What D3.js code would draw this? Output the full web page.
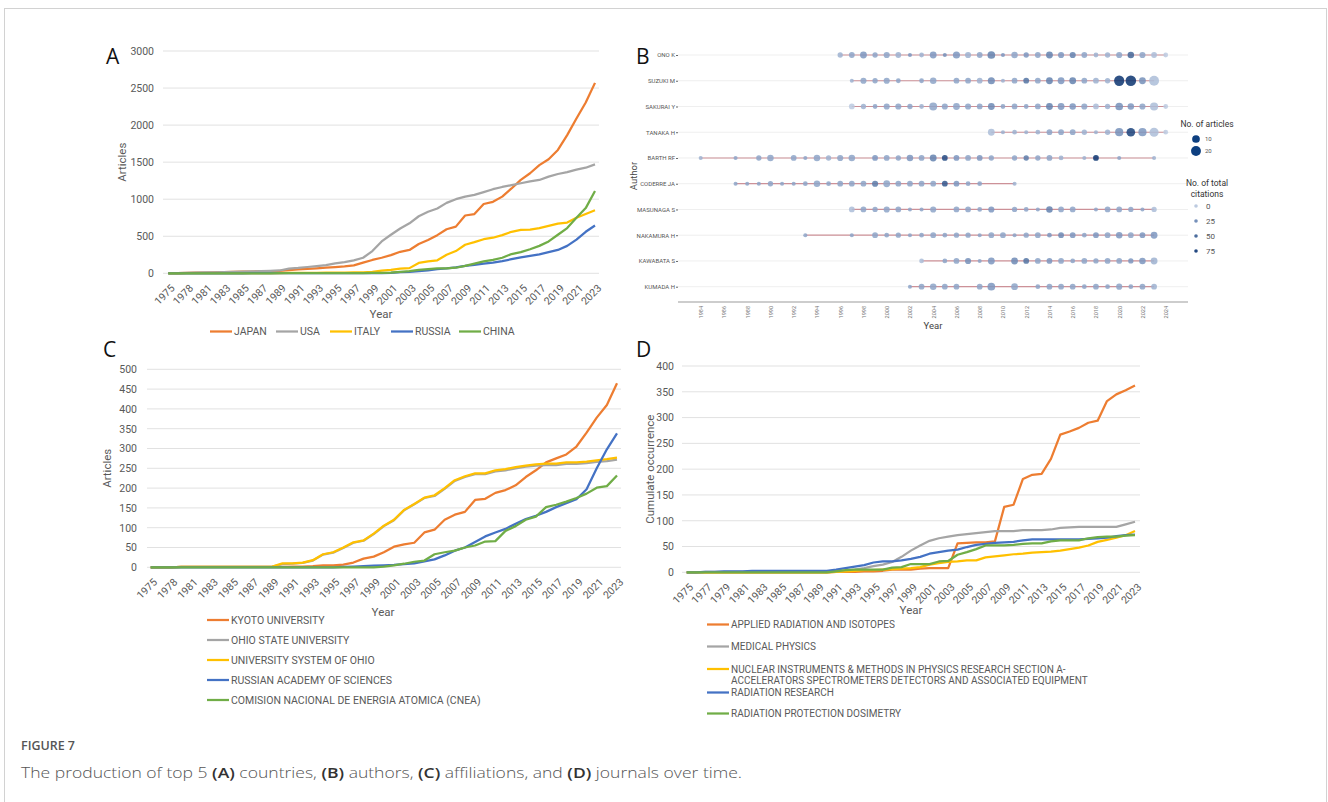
<!DOCTYPE html>
<html>
<head>
<meta charset="utf-8">
<script src="https://cdn.jsdelivr.net/npm/d3@7"></script>
<style>
  body { margin: 0; background: #fff; }
  svg text { font-family: Roboto, "Liberation Sans", sans-serif; }
</style>
</head>
<body>
<div id="wrapper"></div>
<script>
// ---- data ----
// panels A and C share the same category axis (Excel drops a few early years)
const yearsAC = ["1975","1977","1978","1980","1981","1982","1983","1984","1985","1986","1987","1988","1989","1990","1991","1992","1993","1994","1995","1996","1997","1998","1999","2000","2001","2002","2003","2004","2005","2006","2007","2008","2009","2010","2011","2012","2013","2014","2015","2016","2017","2018","2019","2020","2021","2022","2023"];
const yearsD = d3.range(1975, 2024).map(String);

// A: countries
const countryNames = ["JAPAN", "USA", "ITALY", "RUSSIA", "CHINA"];
const japan = [1,3,5,8,10,12,15,18,21,24,27,30,34,42,52,60,68,76,84,92,108,145,180,210,245,290,315,395,450,515,595,630,780,800,935,965,1035,1145,1260,1350,1460,1540,1665,1865,2090,2305,2570];
const usa = [2,4,6,9,11,13,16,19,22,25,28,32,38,62,72,85,98,110,135,150,175,210,300,430,520,605,675,770,830,875,950,1000,1035,1058,1095,1135,1165,1190,1215,1240,1260,1305,1340,1365,1400,1425,1470];
const italy = [0,0,1,1,1,2,2,2,3,3,3,4,4,5,5,6,7,8,9,10,12,14,20,35,45,62,70,140,160,175,250,300,385,420,460,480,515,560,585,590,610,640,670,685,750,800,850];
const russia = [0,0,0,0,0,0,0,0,0,1,1,1,1,1,1,2,2,2,2,3,3,3,4,4,5,15,20,30,40,55,65,80,100,115,130,145,165,190,215,235,255,285,315,370,455,560,645];
const china = [0,0,0,0,0,0,0,0,0,0,0,0,1,1,1,1,2,2,2,3,3,4,5,6,10,20,30,45,55,65,65,75,100,130,160,180,210,260,285,325,370,430,520,610,750,880,1110];

// C: affiliations
const affiliationNames = ["KYOTO UNIVERSITY", "OHIO STATE UNIVERSITY", "UNIVERSITY SYSTEM OF OHIO", "RUSSIAN ACADEMY OF SCIENCES", "COMISION NACIONAL DE ENERGIA ATOMICA (CNEA)"];
const kyoto = [0,0,0,1,1,1,1,1,1,1,1,1,1,1,2,2,3,5,5,7,12,22,27,38,52,58,62,88,95,120,133,140,170,173,188,195,207,228,245,265,275,285,305,340,378,410,465];
const ohioState = [0,0,0,1,1,1,1,1,1,1,1,1,2,8,9,11,17,32,37,49,62,67,84,104,119,144,159,175,180,198,218,228,235,235,242,245,250,254,257,258,258,261,261,263,266,268,272];
const ohioSystem = [0,0,0,1,1,1,1,1,1,1,1,1,2,10,10,12,18,33,38,50,63,68,85,105,120,145,160,176,182,200,220,230,237,237,245,248,253,257,260,262,262,265,265,267,270,273,277];
const russianAcademy = [0,0,0,0,0,0,0,0,0,0,0,0,0,0,0,0,0,0,0,1,2,3,4,5,6,8,10,15,20,30,42,50,64,78,88,97,110,122,130,140,152,162,172,197,250,298,338];
const cnea = [0,0,0,0,0,0,0,0,0,0,0,0,0,0,0,0,0,0,0,0,0,0,0,2,5,9,14,17,33,38,42,50,55,65,66,92,104,120,128,152,158,166,175,186,201,205,232];

// D: journals
const journalNames = ["APPLIED RADIATION AND ISOTOPES", "MEDICAL PHYSICS", "NUCLEAR INSTRUMENTS & METHODS IN PHYSICS RESEARCH SECTION A-|ACCELERATORS SPECTROMETERS DETECTORS AND ASSOCIATED EQUIPMENT", "RADIATION RESEARCH", "RADIATION PROTECTION DOSIMETRY"];
const appliedRadiation = [0,0,0,0,0,0,0,0,0,0,0,0,0,0,0,0,1,1,1,2,2,3,5,5,5,7,8,8,8,56,57,58,58,60,127,131,181,189,191,220,267,273,280,290,294,332,345,353,362];
const medicalPhysics = [0,0,1,1,1,1,1,1,1,1,1,1,1,1,1,1,2,3,5,8,12,15,20,30,42,52,61,66,69,72,74,76,78,80,80,80,82,82,82,83,86,87,88,88,88,88,88,93,98];
const nuclearInstruments = [0,0,0,0,0,0,0,0,0,0,0,0,0,0,0,0,1,2,3,4,4,5,6,7,8,10,15,18,20,21,23,23,29,31,33,35,36,38,39,40,42,45,48,52,59,63,67,72,80];
const radiationResearch = [0,0,1,1,2,2,2,3,3,3,3,3,3,3,3,3,5,8,11,14,19,21,21,23,26,30,36,39,42,44,49,53,55,57,58,59,62,64,64,64,64,64,64,65,66,67,70,72,73];
const radiationDosimetry = [0,0,0,0,0,0,0,0,0,0,0,0,0,0,0,0,2,4,5,5,5,5,9,10,16,16,16,21,22,34,39,45,52,52,52,53,55,56,56,60,62,62,62,66,68,69,69,71,72];

// B: authors, each entry [year, articles, total citations]
const authors = ["ONO K","SUZUKI M","SAKURAI Y","TANAKA H","BARTH RF","CODERRE JA","MASUNAGA S","NAKAMURA H","KAWABATA S","KUMADA H"];
const onoK = [[1996,3,10],[1997,4,15],[1998,7,20],[1999,3,15],[2000,5,15],[2001,4,10],[2002,1,20],[2003,2,10],[2004,7,20],[2005,1,25],[2006,8,20],[2007,5,10],[2008,4,15],[2009,10,35],[2010,1,20],[2011,6,15],[2012,3,20],[2013,4,15],[2014,7,35],[2015,5,20],[2016,5,35],[2017,4,15],[2018,2,10],[2019,3,10],[2020,5,15],[2021,6,55],[2022,5,15],[2023,4,5],[2024,2,0]];
const suzukiM = [[1997,1,10],[1998,5,15],[1999,3,15],[2000,5,15],[2001,2,15],[2003,2,15],[2004,6,15],[2006,4,15],[2007,4,15],[2008,4,10],[2009,8,30],[2010,1,10],[2011,4,15],[2012,4,45],[2013,4,15],[2014,7,35],[2015,7,20],[2016,7,35],[2017,4,15],[2018,4,10],[2019,3,10],[2020,22,90],[2021,24,90],[2022,7,25],[2023,20,5]];
const sakuraiY = [[1997,4,0],[1998,3,10],[1999,2,15],[2000,5,15],[2001,5,15],[2002,3,15],[2003,2,10],[2004,11,15],[2005,5,15],[2006,7,15],[2007,5,15],[2008,4,15],[2009,7,30],[2010,2,15],[2011,4,15],[2012,2,15],[2013,4,15],[2014,7,35],[2015,7,20],[2016,6,20],[2017,5,15],[2018,4,5],[2019,3,10],[2020,10,25],[2021,6,20],[2022,5,15],[2023,12,5],[2024,2,0]];
const tanakaH = [[2009,7,5],[2010,1,10],[2011,2,10],[2012,1,10],[2013,2,10],[2014,4,15],[2015,4,15],[2016,4,15],[2017,3,10],[2018,1,10],[2019,3,10],[2020,12,25],[2021,14,80],[2022,12,20],[2023,16,5],[2024,2,0]];
const barthRF = [[1984,1,10],[1987,1,15],[1989,3,15],[1990,6,15],[1992,4,15],[1993,1,15],[1994,6,15],[1995,3,10],[1996,5,15],[1997,6,15],[1999,4,20],[2000,4,15],[2001,3,15],[2002,6,20],[2003,4,15],[2004,7,35],[2005,4,75],[2006,4,20],[2007,4,15],[2008,4,20],[2009,3,15],[2011,3,15],[2012,3,40],[2013,3,15],[2014,4,15],[2015,2,10],[2017,1,10],[2018,4,90],[2020,1,15],[2023,1,10]];
const coderreJA = [[1987,1,15],[1988,1,15],[1989,1,15],[1990,3,15],[1991,1,15],[1992,1,15],[1993,2,15],[1994,6,15],[1995,2,15],[1996,4,15],[1997,4,15],[1998,4,15],[1999,5,40],[2000,7,15],[2001,4,15],[2002,4,15],[2003,4,15],[2004,4,15],[2005,4,65],[2006,4,20],[2007,2,15],[2008,2,15],[2011,1,10]];
const masunagaS = [[1997,4,5],[1998,4,15],[1999,3,15],[2000,5,15],[2001,4,15],[2002,1,15],[2003,1,15],[2004,5,15],[2006,4,15],[2007,4,15],[2008,2,15],[2009,5,20],[2011,3,15],[2012,2,15],[2013,1,15],[2014,6,35],[2015,4,15],[2016,4,15],[2018,1,15],[2019,4,15],[2020,4,15],[2021,3,15],[2022,1,15],[2023,3,5]];
const nakamuraH = [[1993,1,15],[1997,1,15],[1999,4,15],[2000,2,15],[2001,3,15],[2002,1,15],[2003,2,15],[2004,4,15],[2005,2,15],[2006,3,15],[2007,3,15],[2008,1,15],[2009,4,15],[2010,4,15],[2011,1,15],[2012,3,15],[2013,4,15],[2014,2,20],[2015,4,30],[2016,4,20],[2017,2,15],[2018,4,20],[2019,4,15],[2020,6,20],[2021,4,15],[2022,4,20],[2023,7,20]];
const kawabataS = [[2003,2,5],[2005,2,15],[2006,4,15],[2007,5,25],[2008,1,15],[2009,7,20],[2011,7,30],[2012,4,45],[2013,4,15],[2014,4,20],[2015,4,15],[2016,2,15],[2017,4,15],[2018,3,15],[2019,4,15],[2020,4,15],[2021,3,20],[2022,6,20],[2023,7,10]];
const kumadaH = [[2002,1,15],[2003,4,15],[2004,6,15],[2005,4,15],[2006,4,15],[2008,4,15],[2009,10,20],[2011,7,15],[2013,2,15],[2014,4,15],[2015,4,15],[2016,4,15],[2017,2,15],[2018,4,15],[2019,2,15],[2020,5,15],[2021,2,15],[2022,4,15],[2023,4,10]];
const authorRecords = [onoK, suzukiM, sakuraiY, tanakaH, barthRF, coderreJA, masunagaS, nakamuraH, kawabataS, kumadaH];
const articleLegend = [10, 20];
const citationLegend = [0, 25, 50, 75];

const excelColors = ["#ED7D31", "#A5A5A5", "#FFC000", "#4472C4", "#70AD47"];
const textGray = "#595959";

// ---- canvas ----
const width = 1328, height = 802;
const svg = d3.select("#wrapper").append("svg")
    .attr("width", width)
    .attr("height", height);

svg.append("rect")
    .attr("x", 4.5).attr("y", 8.5)
    .attr("width", 1322).attr("height", 830)
    .attr("fill", "none")
    .attr("stroke", "#d2d2d2");

// ---- Excel style line panel ----
function drawLinePanel(opt) {
    const g = svg.append("g");
    const x = d3.scalePoint().domain(opt.categories).range(opt.xRange);
    const y = d3.scaleLinear().domain(opt.yDomain).range(opt.yRange);
    const yTicks = d3.range(opt.yDomain[0], opt.yDomain[1] + 1, opt.yStep);

    // gridlines
    g.selectAll(".grid")
        .data(yTicks)
        .enter().append("line")
        .attr("x1", opt.gridX[0]).attr("x2", opt.gridX[1])
        .attr("y1", d => y(d)).attr("y2", d => y(d))
        .attr("stroke", "#d9d9d9")
        .attr("stroke-width", 0.8);

    // y axis labels
    const yAxis = g.append("g")
        .attr("transform", `translate(${opt.yLabelX},0)`)
        .call(d3.axisLeft(y).tickValues(yTicks).tickFormat(d3.format("d")).tickSize(0).tickPadding(0));
    yAxis.select(".domain").remove();
    yAxis.selectAll("text")
        .attr("fill", textGray)
        .style("font-size", "10.5px");

    // x axis labels, every other category, rotated
    const axisY = opt.yRange[0];
    const xAxis = g.append("g")
        .attr("transform", `translate(0,${axisY})`)
        .call(d3.axisBottom(x).tickValues(opt.categories.filter((d, i) => i % 2 === 0)).tickSize(0));
    xAxis.select(".domain").remove();
    xAxis.selectAll("text")
        .attr("x", 0).attr("y", 0).attr("dy", "0.35em")
        .attr("text-anchor", "end")
        .attr("transform", "translate(4,13) rotate(-45)")
        .attr("fill", textGray)
        .style("font-size", "10.5px");

    // axis titles
    g.append("text")
        .attr("transform", `translate(${opt.yTitleX},${(opt.yRange[0] + opt.yRange[1]) / 2}) rotate(-90)`)
        .attr("text-anchor", "middle")
        .attr("dy", "0.35em")
        .attr("fill", textGray)
        .style("font-size", "11.5px")
        .text(opt.yTitle);
    g.append("text")
        .attr("x", opt.xTitle[0]).attr("y", opt.xTitle[1])
        .attr("text-anchor", "middle")
        .attr("fill", textGray)
        .style("font-size", "11.5px")
        .text("Year");

    // series
    const line = d3.line()
        .x((d, i) => x(opt.categories[i]))
        .y(d => y(d));
    g.selectAll(".series")
        .data(opt.series)
        .enter().append("path")
        .attr("d", d => line(d))
        .attr("fill", "none")
        .attr("stroke", (d, i) => excelColors[i])
        .attr("stroke-width", 2.25)
        .attr("stroke-linejoin", "round");

    // panel letter
    svg.append("text")
        .attr("x", opt.letter[1]).attr("y", opt.letter[2])
        .style("font-size", "21px")
        .style("font-family", "'Open Sans', sans-serif")
        .attr("fill", "#111")
        .text(opt.letter[0]);

    // legend
    const legend = g.selectAll(".legend")
        .data(opt.names)
        .enter().append("g")
        .attr("transform", (d, i) => `translate(${opt.legendPos[i][0]},${opt.legendPos[i][1]})`);
    legend.append("line")
        .attr("x1", 0).attr("x2", 22)
        .attr("stroke", (d, i) => excelColors[i])
        .attr("stroke-width", 2.25);
    legend.append("text")
        .attr("fill", textGray)
        .style("font-size", opt.legendFont)
        .each(function (d) {
            const parts = d.split("|");
            d3.select(this).selectAll("tspan")
                .data(parts)
                .enter().append("tspan")
                .attr("x", 24)
                .attr("dy", (p, j) => j === 0 ? "0.35em" : "1.1em")
                .text(p => p);
        });
}

// A
drawLinePanel({
    letter: ["A", 106, 64],
    categories: yearsAC,
    series: [japan, usa, italy, russia, china],
    names: countryNames,
    xRange: [168.3, 595], yRange: [273.3, 51], yDomain: [0, 3000], yStep: 500,
    gridX: [163, 599], yLabelX: 154, yTitle: "Articles", yTitleX: 122,
    xTitle: [381, 318], legendFont: "10.5px",
    legendPos: [[210, 331.5], [276, 331.5], [330, 331.5], [391, 331.5], [459, 331.5]]
});

// C
drawLinePanel({
    letter: ["C", 103, 357],
    categories: yearsAC,
    series: [kyoto, ohioState, ohioSystem, russianAcademy, cnea],
    names: affiliationNames,
    xRange: [150.7, 617], yRange: [567.3, 369.3], yDomain: [0, 500], yStep: 50,
    gridX: [147, 621], yLabelX: 137, yTitle: "Articles", yTitleX: 107,
    xTitle: [383, 616], legendFont: "10.5px",
    legendPos: [[207, 620], [207, 640], [207, 660], [207, 680], [207, 700]]
});

// D
drawLinePanel({
    letter: ["D", 636, 357],
    categories: yearsD,
    series: [appliedRadiation, medicalPhysics, nuclearInstruments, radiationResearch, radiationDosimetry],
    names: journalNames,
    xRange: [686.7, 1135], yRange: [572.3, 366], yDomain: [0, 400], yStep: 50,
    gridX: [682, 1140], yLabelX: 674, yTitle: "Cumulate occurrence", yTitleX: 650,
    xTitle: [911, 614], legendFont: "10px",
    legendPos: [[707, 624.5], [707, 646.5], [707, 669], [707, 692.5], [707, 713.5]]
});

// ---- B: author production over time ----
const gB = svg.append("g");
const xB = d3.scaleLinear().domain([1984, 2024]).range([700.7, 1165.7]);
const yB = d3.scalePoint().domain(authors).range([55, 286.7]);
const rB = d3.scaleSqrt().domain([0, 25]).range([1.2, 5.4]);
const cB = d3.scaleLinear().domain([0, 20, 90]).range(["#bccae0", "#7d97c0", "#0a3470"]);
const plotLeft = 678, plotRight = 1188, axisYB = 302;

gB.selectAll(".row")
    .data(authors)
    .enter().append("line")
    .attr("x1", plotLeft).attr("x2", plotRight)
    .attr("y1", d => yB(d)).attr("y2", d => yB(d))
    .attr("stroke", "#efefef")
    .attr("stroke-width", 1);

// span lines
gB.selectAll(".span")
    .data(authorRecords)
    .enter().append("line")
    .attr("x1", d => xB(d3.min(d, r => r[0])))
    .attr("x2", d => xB(d3.max(d, r => r[0])))
    .attr("y1", (d, i) => yB(authors[i]))
    .attr("y2", (d, i) => yB(authors[i]))
    .attr("stroke", "#c0707a")
    .attr("stroke-opacity", 0.75)
    .attr("stroke-width", 1.2);

// dots
authorRecords.forEach((records, i) => {
    gB.selectAll(null)
        .data(records)
        .enter().append("circle")
        .attr("cx", d => xB(d[0]))
        .attr("cy", yB(authors[i]))
        .attr("r", d => rB(d[1]))
        .attr("fill", d => cB(d[2]))
        .attr("fill-opacity", 0.85);
});

// axes
const yAxisB = gB.append("g")
    .attr("transform", `translate(${plotLeft},0)`)
    .call(d3.axisLeft(yB).tickSize(2).tickPadding(1));
yAxisB.select(".domain").remove();
yAxisB.selectAll("line").attr("stroke", "#666");
yAxisB.selectAll("text").attr("fill", "#555").style("font-size", "6px");

const xAxisB = gB.append("g")
    .attr("transform", `translate(0,${axisYB})`)
    .call(d3.axisBottom(xB).tickValues(d3.range(1984, 2025, 2)).tickFormat(d3.format("d")).tickSize(0).tickSizeOuter(0));
xAxisB.select(".domain")
    .attr("d", `M${plotLeft},0H${plotRight}`)
    .attr("stroke", "#bdbdbd")
    .attr("stroke-width", 1.6);
xAxisB.selectAll("text")
    .attr("x", 0).attr("y", 0).attr("dy", "0.35em")
    .attr("text-anchor", "end")
    .attr("transform", "translate(0,4) rotate(-90)")
    .attr("fill", "#777")
    .style("font-size", "5.5px");

gB.append("text")
    .attr("x", 933).attr("y", 329)
    .attr("text-anchor", "middle")
    .attr("fill", "#444")
    .style("font-size", "9.5px")
    .text("Year");
gB.append("text")
    .attr("transform", `translate(634,176) rotate(-90)`)
    .attr("text-anchor", "middle")
    .attr("dy", "0.35em")
    .attr("fill", "#444")
    .style("font-size", "9.5px")
    .text("Author");

svg.append("text")
    .attr("x", 636).attr("y", 64)
    .style("font-size", "21px")
    .style("font-family", "'Open Sans', sans-serif")
    .attr("fill", "#111")
    .text("B");

// legend: articles
const legB = gB.append("g");
legB.append("text")
    .attr("x", 1207).attr("y", 127)
    .attr("text-anchor", "middle")
    .attr("fill", "#333")
    .style("font-size", "8.5px")
    .text("No. of articles");
const artItems = legB.selectAll(".art")
    .data(articleLegend)
    .enter().append("g")
    .attr("transform", (d, i) => `translate(1196,${139 + i * 12})`);
artItems.append("circle")
    .attr("r", d => rB(d))
    .attr("fill", "#0d3f80");
artItems.append("text")
    .attr("x", 9).attr("dy", "0.35em")
    .attr("fill", "#555")
    .style("font-size", "6px")
    .text(d => d);

// legend: citations
legB.append("text")
    .attr("x", 1207).attr("y", 186)
    .attr("text-anchor", "middle")
    .attr("fill", "#333")
    .style("font-size", "8.5px")
    .text("No. of total");
legB.append("text")
    .attr("x", 1207).attr("y", 197)
    .attr("text-anchor", "middle")
    .attr("fill", "#333")
    .style("font-size", "8.5px")
    .text("citations");
const citItems = legB.selectAll(".cit")
    .data(citationLegend)
    .enter().append("g")
    .attr("transform", (d, i) => `translate(1196,${206 + i * 15})`);
citItems.append("circle")
    .attr("r", 1.8)
    .attr("fill", d => cB(d));
citItems.append("text")
    .attr("x", 10).attr("dy", "0.35em")
    .attr("fill", "#555")
    .style("font-size", "8px")
    .text(d => d);

// ---- caption ----
svg.append("text")
    .attr("x", 21).attr("y", 750)
    .attr("fill", "#555")
    .attr("textLength", 54)
    .attr("lengthAdjust", "spacingAndGlyphs")
    .style("font-family", "'Open Sans', sans-serif")
    .style("font-size", "12px")
    .style("font-weight", 600)
    .text("FIGURE 7");
const caption = svg.append("text")
    .attr("x", 21).attr("y", 778)
    .attr("fill", "#555")
    .attr("textLength", 721)
    .attr("lengthAdjust", "spacingAndGlyphs")
    .style("font-family", "'Open Sans', sans-serif")
    .style("font-size", "15px")
    .style("font-weight", 300);
const captionParts = [["The production of top 5 ", false], ["(A)", true], [" countries, ", false], ["(B)", true], [" authors, ", false], ["(C)", true], [" affiliations, and ", false], ["(D)", true], [" journals over time.", false]];
caption.selectAll("tspan")
    .data(captionParts)
    .enter().append("tspan")
    .style("font-weight", d => d[1] ? 600 : 300)
    .attr("fill", d => d[1] ? "#333" : "#555")
    .text(d => d[0]);
</script>
</body>
</html>
